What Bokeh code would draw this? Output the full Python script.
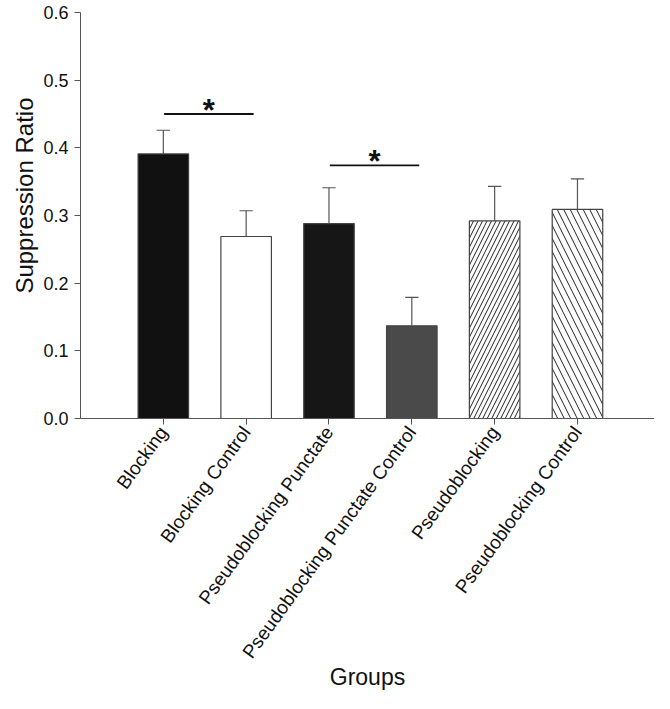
import math
from bokeh.plotting import figure
from bokeh.models import FixedTicker, Range1d, ColumnDataSource, PrintfTickFormatter, Title
from bokeh.core.properties import value
from bokeh.embed import file_html
from bokeh.resources import INLINE

groups = ["Blocking", "Blocking Control", "Pseudoblocking Punctate",
          "Pseudoblocking Punctate Control", "Pseudoblocking", "Pseudoblocking Control"]
means = [0.391, 0.269, 0.288, 0.137, 0.292, 0.309]
sems = [0.035, 0.038, 0.053, 0.042, 0.051, 0.045]
fills = ["#111111", "#ffffff", "#161616", "#4a4a4a", "#ffffff", "#ffffff"]
hatches = [" ", " ", " ", " ", "/", "\\"]
hatch_scales = [12, 12, 12, 12, 9, 13]
sig_pairs = [(0, 1), (2, 3)]
sig_heights = [0.45, 0.374]
yticks = [0.0, 0.1, 0.2, 0.3, 0.4, 0.5, 0.6]

xs = [i + 1 for i in range(len(groups))]
tops = [m + s for m, s in zip(means, sems)]

p = figure(width=654, height=693, output_backend="svg", toolbar_location=None,
           x_range=Range1d(0, 6.93), y_range=Range1d(0, 0.6),
           min_border_left=80, min_border_right=0, min_border_top=12, min_border_bottom=275)
p.outline_line_color = None
p.grid.visible = False
p.background_fill_color = "white"

src = ColumnDataSource(dict(x=xs, top=means, fill=fills, hatch=hatches, hs=hatch_scales,
                            etop=tops, cl=[x - 0.08 for x in xs], cr=[x + 0.08 for x in xs]))

p.vbar(x="x", top="top", bottom=0, width=0.61, source=src, fill_color="fill",
       line_color="#444444", line_width=1.2, hatch_pattern="hatch", hatch_scale="hs",
       hatch_color="#222222", hatch_weight=1)
p.segment(x0="x", y0="top", x1="x", y1="etop", source=src, line_color="#555555", line_width=1.2)
p.segment(x0="cl", y0="etop", x1="cr", y1="etop", source=src, line_color="#555555", line_width=1.2)

for (a, b), h in zip(sig_pairs, sig_heights):
    x0 = xs[a] + 0.01
    x1 = xs[b] + 0.09
    p.segment(x0=[x0], y0=[h], x1=[x1], y1=[h], line_color="#111111", line_width=1.8)
    p.text(x=[(x0 + x1) / 2], y=[h], text=["*"], text_align="center",
           text_baseline="alphabetic", y_offset=-4, text_font=value("Liberation Sans"),
           text_font_size="31px", text_font_style="bold", text_color="#111111")

p.yaxis.ticker = FixedTicker(ticks=yticks)
p.yaxis.formatter = PrintfTickFormatter(format="%.1f")
p.xaxis.ticker = FixedTicker(ticks=xs)
p.xaxis.major_label_overrides = {x: g for x, g in zip(xs, groups)}
p.xaxis.major_label_orientation = math.radians(54)

for ax in (p.xaxis, p.yaxis):
    ax.axis_line_color = "#555555"
    ax.major_tick_line_color = "#555555"
    ax.major_tick_out = 6
    ax.major_tick_in = 0
    ax.minor_tick_line_color = None
    ax.major_label_text_font = "Liberation Sans"
    ax.major_label_text_color = "#111111"
    ax.axis_label_text_font = "Liberation Sans"
    ax.axis_label_text_font_style = "normal"
    ax.axis_label_text_font_size = "23px"
    ax.axis_label_text_color = "#111111"

p.yaxis.major_label_text_font_size = "18px"
p.xaxis.major_label_text_font_size = "19px"
p.yaxis.major_label_standoff = 6
p.xaxis.major_label_standoff = 4
p.xaxis.axis_label = "Groups"
p.xaxis.axis_label_standoff = -7

ylab = Title(text="Suppression Ratio", align="right", offset=85, standoff=6,
             text_font="Liberation Sans", text_font_size="24px",
             text_font_style="normal", text_color="#111111")
p.add_layout(ylab, "left")

open("out.html", "w").write(file_html(p, INLINE))
